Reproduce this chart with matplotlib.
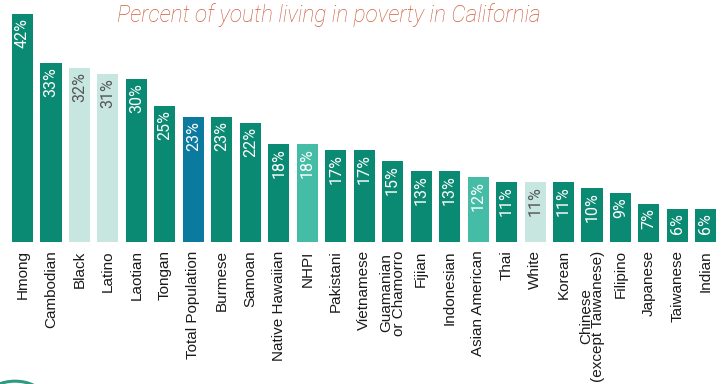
import matplotlib
matplotlib.use("Agg")
import matplotlib.pyplot as plt
from matplotlib.patches import Circle

groups = [
    "Hmong", "Cambodian", "Black", "Latino", "Laotian", "Tongan",
    "Total Population", "Burmese", "Samoan", "Native Hawaiian", "NHPI",
    "Pakistani", "Vietnamese", "Guamanian\nor Chamorro", "Fijian",
    "Indonesian", "Asian American", "Thai", "White", "Korean",
    "Chinese\n(except Taiwanese)", "Filipino", "Japanese", "Taiwanese", "Indian",
]
pct = [42, 33, 32, 31, 30, 25, 23, 23, 22, 18, 18, 17, 17, 15, 13, 13,
       12, 11, 11, 11, 10, 9, 7, 6, 6]

C_DARK = "#0a8a72"
C_LIGHT = "#c6e6df"
C_MID = "#45bda6"
C_BLUE = "#0a7a9e"
kind = {"Black": "light", "Latino": "light", "White": "light",
        "NHPI": "mid", "Asian American": "mid", "Total Population": "blue"}
palette = {"dark": C_DARK, "light": C_LIGHT, "mid": C_MID, "blue": C_BLUE}

W, H = 723, 384
fig = plt.figure(figsize=(W / 100, H / 100), dpi=100)
base = 242  # pixel row of the bar baseline (from top)
ax = fig.add_axes([0, (H - base) / H, 1, base / H])
ax.set_xlim(-0.79, 24.6)
ax.set_ylim(0, 44.57)
ax.axis("off")

x = range(len(groups))
colors = [palette[kind.get(g, "dark")] for g in groups]
ax.bar(x, pct, width=0.74, color=colors, zorder=2)

for i, (g, v) in enumerate(zip(groups, pct)):
    tc = "#555555" if kind.get(g) == "light" else "white"
    ax.annotate(f"{v}%", (i, v), xytext=(0, -3), textcoords="offset points",
                rotation=90, ha="center", va="top", color=tc,
                fontsize=11.5, family="Roboto")
    ax.annotate(g, (i, 0), xytext=(0, -6), textcoords="offset points",
                rotation=90, ha="center", va="top", color="#1a1a1a",
                fontsize=11, family="Liberation Sans",
                multialignment="center", linespacing=0.85,
                annotation_clip=False)

fig.text(329 / W, 1 - 15 / H, "Percent of youth living in poverty in California",
         ha="center", va="center", fontsize=16.3, style="italic",
         family="Roboto", fontweight="light", color="#cf5f40")

# decorative ring at lower left
fig.add_artist(Circle((15 / W, 1 - 395 / H), 26 / W, transform=fig.transFigure,
                      fill=False, ec="#2e9a80", lw=2.2))

fig.savefig("out.png", dpi=100)
